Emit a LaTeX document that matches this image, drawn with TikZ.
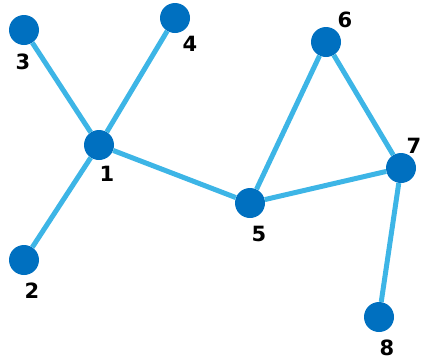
\documentclass[tikz,border=0pt]{standalone}
\usepackage{fontspec}
\setmainfont{DejaVu Sans}
\usetikzlibrary{calc}
\definecolor{vert}{HTML}{0070C0}
\definecolor{link}{HTML}{3DB5E6}
\tikzset{
  vtx/.style={circle, fill=vert, minimum size=30pt, inner sep=0pt},
  edge/.style={draw=link, line width=5pt},
  lab/.style={text=black, font=\fontsize{21}{21}\selectfont\bfseries}
}

\begin{document}
\begin{tikzpicture}[x=1pt,y=-1pt]
  \useasboundingbox (0,0) rectangle (422,360);

  \node[vtx] (n1) at (99,145) {};
  \node[vtx] (n2) at (24,260) {};
  \node[vtx] (n3) at (24,30) {};
  \node[vtx] (n4) at (175,18) {};
  \node[vtx] (n5) at (250,203) {};
  \node[vtx] (n6) at (326,42) {};
  \node[vtx] (n7) at (401,168) {};
  \node[vtx] (n8) at (379,317) {};

  \draw[edge] (n1)--(n3);
  \draw[edge] (n1)--(n4);
  \draw[edge] (n1)--(n2);
  \draw[edge] (n1)--(n5);
  \draw[edge] (n5)--(n6);
  \draw[edge] (n6)--(n7);
  \draw[edge] (n5)--(n7);
  \draw[edge] (n7)--(n8);

  \node[lab] (l1) at ($(n1)+(8,29)$) {1};
  \node[lab] (l2) at ($(n2)+(8,31)$) {2};
  \node[lab] (l3) at ($(n3)+(-1,32)$) {3};
  \node[lab] (l4) at ($(n4)+(15,26)$) {4};
  \node[lab] (l5) at ($(n5)+(9,31)$) {5};
  \node[lab] (l6) at ($(n6)+(19,-22)$) {6};
  \node[lab] (l7) at ($(n7)+(13,-22)$) {7};
  \node[lab] (l8) at ($(n8)+(8,31)$) {8};
\end{tikzpicture}
\end{document}
